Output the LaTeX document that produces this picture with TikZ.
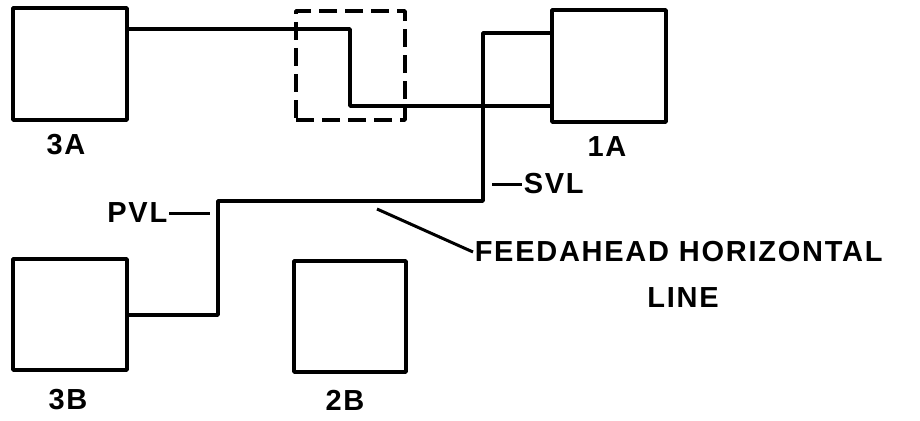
\documentclass[tikz,border=0pt]{standalone}
\usepackage{fontspec}
\setmainfont{Liberation Sans}[LetterSpace=6]
\begin{document}
\begin{tikzpicture}[x=1pt,y=-1pt,
  line width=3.5pt, line join=round,
  unit/.style={draw, rectangle, inner sep=0pt, minimum width=114pt, minimum height=112pt},
  dunit/.style={draw, rectangle, dashed, dash pattern=on 18pt off 8pt, inner sep=0pt},
  lbl/.style={font=\fontsize{29}{31}\selectfont\bfseries, inner sep=0pt},
  wire/.style={draw, line width=3.5pt}]
\useasboundingbox (0,0) rectangle (920,420);
% units
\node[unit] (a3) at (70,64) {};
\node[dunit, minimum width=109pt, minimum height=109pt] (dx) at (350.5,65.5) {};
\node[unit] (a1) at (609,66) {};
\node[unit, minimum height=111pt] (b3) at (70,314.5) {};
\node[unit, minimum width=112pt, minimum height=111pt] (b2) at (350,316.5) {};
% labels
\node[lbl] (l3a) at (66,145) {3A};
\node[lbl] (l1a) at (607,147) {1A};
\node[lbl] (l3b) at (68,400) {3B};
\node[lbl] (l2b) at (345,400) {2B};
% feed lines
\coordinate (p1) at (350,29);
\coordinate (p2) at (350,106);
\draw[wire] (a3.east |- p1) -- (p1) -- (p2) -- (a1.west |- p2);
\coordinate (s1) at (483,33);
\coordinate (s2) at (483,201);
\coordinate (s3) at (218,201);
\coordinate (s4) at (218,315);
\draw[wire] (a1.west |- s1) -- (s1) -- (s2) -- (s3) -- (s4) -- (b3.east |- s4);
% PVL
\node[lbl, anchor=east] (pvl) at (169,213) {PVL};
\coordinate (pvlend) at (210,213);
\draw[line width=3pt] (pvl.east) -- (pvlend);
% SVL
\node[lbl, anchor=west] (svl) at (522,184) {SVL};
\coordinate (svlstart) at (492,184);
\draw[line width=3pt] (svlstart) -- (svl.west);
% feedahead
\node[lbl, anchor=west] (fh) at (473,252) {FEEDAHEAD HORIZONTAL};
\node[lbl] (fl) at (683,297.5) {LINE};
\coordinate (fhs) at (377,209);
\draw[line width=3pt] (fhs) -- (fh.west);
\end{tikzpicture}
\end{document}
